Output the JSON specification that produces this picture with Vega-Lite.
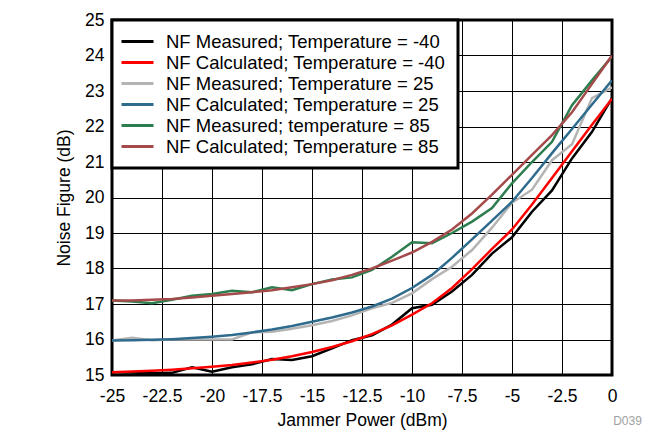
{
  "$schema": "https://vega.github.io/schema/vega-lite/v6.json",
  "width": 500,
  "height": 355,
  "autosize": {"type": "none"},
  "padding": {"left": 112, "top": 20, "right": 59, "bottom": 55},
  "background": "white",
  "title": {"text": "D039", "orient": "bottom", "anchor": "end", "fontSize": 12, "color": "#A0A0A0", "fontWeight": "normal", "font": "Liberation Sans", "offset": -13, "dx": 25},
  "data": {"values": [
    {"x": -25, "nf": 15.08, "s": "NF Measured; Temperature = -40"},
    {"x": -24, "nf": 15.07, "s": "NF Measured; Temperature = -40"},
    {"x": -23, "nf": 15.05, "s": "NF Measured; Temperature = -40"},
    {"x": -22, "nf": 15.06, "s": "NF Measured; Temperature = -40"},
    {"x": -21, "nf": 15.22, "s": "NF Measured; Temperature = -40"},
    {"x": -20, "nf": 15.09, "s": "NF Measured; Temperature = -40"},
    {"x": -19, "nf": 15.22, "s": "NF Measured; Temperature = -40"},
    {"x": -18, "nf": 15.3, "s": "NF Measured; Temperature = -40"},
    {"x": -17, "nf": 15.45, "s": "NF Measured; Temperature = -40"},
    {"x": -16, "nf": 15.42, "s": "NF Measured; Temperature = -40"},
    {"x": -15, "nf": 15.53, "s": "NF Measured; Temperature = -40"},
    {"x": -14, "nf": 15.75, "s": "NF Measured; Temperature = -40"},
    {"x": -13, "nf": 15.98, "s": "NF Measured; Temperature = -40"},
    {"x": -12, "nf": 16.12, "s": "NF Measured; Temperature = -40"},
    {"x": -11, "nf": 16.42, "s": "NF Measured; Temperature = -40"},
    {"x": -10, "nf": 16.88, "s": "NF Measured; Temperature = -40"},
    {"x": -9, "nf": 16.98, "s": "NF Measured; Temperature = -40"},
    {"x": -8, "nf": 17.35, "s": "NF Measured; Temperature = -40"},
    {"x": -7, "nf": 17.82, "s": "NF Measured; Temperature = -40"},
    {"x": -6, "nf": 18.42, "s": "NF Measured; Temperature = -40"},
    {"x": -5, "nf": 18.88, "s": "NF Measured; Temperature = -40"},
    {"x": -4, "nf": 19.6, "s": "NF Measured; Temperature = -40"},
    {"x": -3, "nf": 20.2, "s": "NF Measured; Temperature = -40"},
    {"x": -2, "nf": 21.1, "s": "NF Measured; Temperature = -40"},
    {"x": -1, "nf": 21.85, "s": "NF Measured; Temperature = -40"},
    {"x": 0, "nf": 22.8, "s": "NF Measured; Temperature = -40"},

    {"x": -25, "nf": 15.08, "s": "NF Calculated; Temperature = -40"},
    {"x": -24, "nf": 15.1, "s": "NF Calculated; Temperature = -40"},
    {"x": -23, "nf": 15.12, "s": "NF Calculated; Temperature = -40"},
    {"x": -22, "nf": 15.15, "s": "NF Calculated; Temperature = -40"},
    {"x": -21, "nf": 15.19, "s": "NF Calculated; Temperature = -40"},
    {"x": -20, "nf": 15.23, "s": "NF Calculated; Temperature = -40"},
    {"x": -19, "nf": 15.28, "s": "NF Calculated; Temperature = -40"},
    {"x": -18, "nf": 15.35, "s": "NF Calculated; Temperature = -40"},
    {"x": -17, "nf": 15.43, "s": "NF Calculated; Temperature = -40"},
    {"x": -16, "nf": 15.53, "s": "NF Calculated; Temperature = -40"},
    {"x": -15, "nf": 15.65, "s": "NF Calculated; Temperature = -40"},
    {"x": -14, "nf": 15.79, "s": "NF Calculated; Temperature = -40"},
    {"x": -13, "nf": 15.95, "s": "NF Calculated; Temperature = -40"},
    {"x": -12, "nf": 16.15, "s": "NF Calculated; Temperature = -40"},
    {"x": -11, "nf": 16.4, "s": "NF Calculated; Temperature = -40"},
    {"x": -10, "nf": 16.7, "s": "NF Calculated; Temperature = -40"},
    {"x": -9, "nf": 17.02, "s": "NF Calculated; Temperature = -40"},
    {"x": -8, "nf": 17.45, "s": "NF Calculated; Temperature = -40"},
    {"x": -7, "nf": 17.98, "s": "NF Calculated; Temperature = -40"},
    {"x": -6, "nf": 18.55, "s": "NF Calculated; Temperature = -40"},
    {"x": -5, "nf": 19.1, "s": "NF Calculated; Temperature = -40"},
    {"x": -4, "nf": 19.8, "s": "NF Calculated; Temperature = -40"},
    {"x": -3, "nf": 20.55, "s": "NF Calculated; Temperature = -40"},
    {"x": -2, "nf": 21.3, "s": "NF Calculated; Temperature = -40"},
    {"x": -1, "nf": 22.05, "s": "NF Calculated; Temperature = -40"},
    {"x": 0, "nf": 22.78, "s": "NF Calculated; Temperature = -40"},

    {"x": -25, "nf": 15.97, "s": "NF Measured; Temperature = 25"},
    {"x": -24, "nf": 16.05, "s": "NF Measured; Temperature = 25"},
    {"x": -23, "nf": 15.98, "s": "NF Measured; Temperature = 25"},
    {"x": -22, "nf": 16.0, "s": "NF Measured; Temperature = 25"},
    {"x": -21, "nf": 16.0, "s": "NF Measured; Temperature = 25"},
    {"x": -20, "nf": 16.0, "s": "NF Measured; Temperature = 25"},
    {"x": -19, "nf": 16.0, "s": "NF Measured; Temperature = 25"},
    {"x": -18, "nf": 16.2, "s": "NF Measured; Temperature = 25"},
    {"x": -17, "nf": 16.22, "s": "NF Measured; Temperature = 25"},
    {"x": -16, "nf": 16.3, "s": "NF Measured; Temperature = 25"},
    {"x": -15, "nf": 16.4, "s": "NF Measured; Temperature = 25"},
    {"x": -14, "nf": 16.52, "s": "NF Measured; Temperature = 25"},
    {"x": -13, "nf": 16.68, "s": "NF Measured; Temperature = 25"},
    {"x": -12, "nf": 16.88, "s": "NF Measured; Temperature = 25"},
    {"x": -11, "nf": 17.03, "s": "NF Measured; Temperature = 25"},
    {"x": -10, "nf": 17.3, "s": "NF Measured; Temperature = 25"},
    {"x": -9, "nf": 17.7, "s": "NF Measured; Temperature = 25"},
    {"x": -8, "nf": 18.05, "s": "NF Measured; Temperature = 25"},
    {"x": -7, "nf": 18.52, "s": "NF Measured; Temperature = 25"},
    {"x": -6, "nf": 19.15, "s": "NF Measured; Temperature = 25"},
    {"x": -5, "nf": 19.85, "s": "NF Measured; Temperature = 25"},
    {"x": -4, "nf": 20.22, "s": "NF Measured; Temperature = 25"},
    {"x": -3, "nf": 21.05, "s": "NF Measured; Temperature = 25"},
    {"x": -2, "nf": 21.5, "s": "NF Measured; Temperature = 25"},
    {"x": -1, "nf": 22.8, "s": "NF Measured; Temperature = 25"},
    {"x": 0, "nf": 23.1, "s": "NF Measured; Temperature = 25"},

    {"x": -25, "nf": 15.97, "s": "NF Calculated; Temperature = 25"},
    {"x": -24, "nf": 15.98, "s": "NF Calculated; Temperature = 25"},
    {"x": -23, "nf": 15.99, "s": "NF Calculated; Temperature = 25"},
    {"x": -22, "nf": 16.01, "s": "NF Calculated; Temperature = 25"},
    {"x": -21, "nf": 16.04, "s": "NF Calculated; Temperature = 25"},
    {"x": -20, "nf": 16.08, "s": "NF Calculated; Temperature = 25"},
    {"x": -19, "nf": 16.13, "s": "NF Calculated; Temperature = 25"},
    {"x": -18, "nf": 16.2, "s": "NF Calculated; Temperature = 25"},
    {"x": -17, "nf": 16.28, "s": "NF Calculated; Temperature = 25"},
    {"x": -16, "nf": 16.38, "s": "NF Calculated; Temperature = 25"},
    {"x": -15, "nf": 16.5, "s": "NF Calculated; Temperature = 25"},
    {"x": -14, "nf": 16.62, "s": "NF Calculated; Temperature = 25"},
    {"x": -13, "nf": 16.76, "s": "NF Calculated; Temperature = 25"},
    {"x": -12, "nf": 16.93, "s": "NF Calculated; Temperature = 25"},
    {"x": -11, "nf": 17.15, "s": "NF Calculated; Temperature = 25"},
    {"x": -10, "nf": 17.45, "s": "NF Calculated; Temperature = 25"},
    {"x": -9, "nf": 17.82, "s": "NF Calculated; Temperature = 25"},
    {"x": -8, "nf": 18.3, "s": "NF Calculated; Temperature = 25"},
    {"x": -7, "nf": 18.82, "s": "NF Calculated; Temperature = 25"},
    {"x": -6, "nf": 19.35, "s": "NF Calculated; Temperature = 25"},
    {"x": -5, "nf": 19.88, "s": "NF Calculated; Temperature = 25"},
    {"x": -4, "nf": 20.55, "s": "NF Calculated; Temperature = 25"},
    {"x": -3, "nf": 21.25, "s": "NF Calculated; Temperature = 25"},
    {"x": -2, "nf": 21.93, "s": "NF Calculated; Temperature = 25"},
    {"x": -1, "nf": 22.62, "s": "NF Calculated; Temperature = 25"},
    {"x": 0, "nf": 23.3, "s": "NF Calculated; Temperature = 25"},

    {"x": -25, "nf": 17.1, "s": "NF Measured; temperature = 85"},
    {"x": -24, "nf": 17.07, "s": "NF Measured; temperature = 85"},
    {"x": -23, "nf": 17.02, "s": "NF Measured; temperature = 85"},
    {"x": -22, "nf": 17.12, "s": "NF Measured; temperature = 85"},
    {"x": -21, "nf": 17.23, "s": "NF Measured; temperature = 85"},
    {"x": -20, "nf": 17.28, "s": "NF Measured; temperature = 85"},
    {"x": -19, "nf": 17.37, "s": "NF Measured; temperature = 85"},
    {"x": -18, "nf": 17.33, "s": "NF Measured; temperature = 85"},
    {"x": -17, "nf": 17.47, "s": "NF Measured; temperature = 85"},
    {"x": -16, "nf": 17.39, "s": "NF Measured; temperature = 85"},
    {"x": -15, "nf": 17.56, "s": "NF Measured; temperature = 85"},
    {"x": -14, "nf": 17.69, "s": "NF Measured; temperature = 85"},
    {"x": -13, "nf": 17.75, "s": "NF Measured; temperature = 85"},
    {"x": -12, "nf": 17.96, "s": "NF Measured; temperature = 85"},
    {"x": -11, "nf": 18.33, "s": "NF Measured; temperature = 85"},
    {"x": -10, "nf": 18.74, "s": "NF Measured; temperature = 85"},
    {"x": -9, "nf": 18.71, "s": "NF Measured; temperature = 85"},
    {"x": -8, "nf": 19.0, "s": "NF Measured; temperature = 85"},
    {"x": -7, "nf": 19.32, "s": "NF Measured; temperature = 85"},
    {"x": -6, "nf": 19.7, "s": "NF Measured; temperature = 85"},
    {"x": -5, "nf": 20.4, "s": "NF Measured; temperature = 85"},
    {"x": -4, "nf": 21.0, "s": "NF Measured; temperature = 85"},
    {"x": -3, "nf": 21.57, "s": "NF Measured; temperature = 85"},
    {"x": -2, "nf": 22.6, "s": "NF Measured; temperature = 85"},
    {"x": -1, "nf": 23.3, "s": "NF Measured; temperature = 85"},
    {"x": 0, "nf": 23.97, "s": "NF Measured; temperature = 85"},

    {"x": -25, "nf": 17.1, "s": "NF Calculated; Temperature = 85"},
    {"x": -24, "nf": 17.1, "s": "NF Calculated; Temperature = 85"},
    {"x": -23, "nf": 17.12, "s": "NF Calculated; Temperature = 85"},
    {"x": -22, "nf": 17.14, "s": "NF Calculated; Temperature = 85"},
    {"x": -21, "nf": 17.18, "s": "NF Calculated; Temperature = 85"},
    {"x": -20, "nf": 17.23, "s": "NF Calculated; Temperature = 85"},
    {"x": -19, "nf": 17.28, "s": "NF Calculated; Temperature = 85"},
    {"x": -18, "nf": 17.33, "s": "NF Calculated; Temperature = 85"},
    {"x": -17, "nf": 17.39, "s": "NF Calculated; Temperature = 85"},
    {"x": -16, "nf": 17.47, "s": "NF Calculated; Temperature = 85"},
    {"x": -15, "nf": 17.56, "s": "NF Calculated; Temperature = 85"},
    {"x": -14, "nf": 17.67, "s": "NF Calculated; Temperature = 85"},
    {"x": -13, "nf": 17.82, "s": "NF Calculated; Temperature = 85"},
    {"x": -12, "nf": 18.0, "s": "NF Calculated; Temperature = 85"},
    {"x": -11, "nf": 18.22, "s": "NF Calculated; Temperature = 85"},
    {"x": -10, "nf": 18.45, "s": "NF Calculated; Temperature = 85"},
    {"x": -9, "nf": 18.75, "s": "NF Calculated; Temperature = 85"},
    {"x": -8, "nf": 19.1, "s": "NF Calculated; Temperature = 85"},
    {"x": -7, "nf": 19.55, "s": "NF Calculated; Temperature = 85"},
    {"x": -6, "nf": 20.08, "s": "NF Calculated; Temperature = 85"},
    {"x": -5, "nf": 20.64, "s": "NF Calculated; Temperature = 85"},
    {"x": -4, "nf": 21.2, "s": "NF Calculated; Temperature = 85"},
    {"x": -3, "nf": 21.76, "s": "NF Calculated; Temperature = 85"},
    {"x": -2, "nf": 22.4, "s": "NF Calculated; Temperature = 85"},
    {"x": -1, "nf": 23.2, "s": "NF Calculated; Temperature = 85"},
    {"x": 0, "nf": 24.0, "s": "NF Calculated; Temperature = 85"}
  ]},
  "mark": {"type": "line", "strokeWidth": 2.5, "clip": true},
  "encoding": {
    "x": {
      "field": "x", "type": "quantitative",
      "scale": {"domain": [-25, 0], "nice": false},
      "axis": {"values": [-25, -22.5, -20, -17.5, -15, -12.5, -10, -7.5, -5, -2.5, 0], "labelExpr": "datum.value < 0 ? '-' + (-datum.value) : '' + datum.value", "labelOverlap": false, "labelFlush": false, "title": "Jammer Power (dBm)", "labelPadding": 12, "titlePadding": 7}
    },
    "y": {
      "field": "nf", "type": "quantitative",
      "scale": {"domain": [15, 25], "nice": false, "zero": false},
      "axis": {"values": [15, 16, 17, 18, 19, 20, 21, 22, 23, 24, 25], "labelOverlap": false, "labelFlush": false, "title": "Noise Figure (dB)", "labelPadding": 8, "titlePadding": 11}
    },
    "color": {
      "field": "s", "type": "nominal",
      "scale": {
        "domain": ["NF Measured; Temperature = -40", "NF Calculated; Temperature = -40", "NF Measured; Temperature = 25", "NF Calculated; Temperature = 25", "NF Measured; temperature = 85", "NF Calculated; Temperature = 85"],
        "range": ["#000000", "#FF0000", "#B4B4B4", "#2E6B8C", "#2E7D4F", "#A54A4A"]
      },
      "legend": {
        "title": null, "orient": "top-left", "offset": 0,
        "fillColor": "white", "strokeColor": "black", "padding": 12,
        "symbolType": "M-1.5,0H2.5", "symbolSize": 256, "symbolStrokeWidth": 3,
        "labelFontSize": 18.5, "labelOffset": 23, "rowPadding": 2, "labelLimit": 400
      }
    }
  },
  "config": {
    "font": "Liberation Sans",
    "view": {"stroke": "black", "strokeWidth": 3},
    "axis": {
      "grid": true, "gridColor": "black", "gridOpacity": 1, "gridWidth": 1,
      "domain": false, "ticks": false,
      "labelFont": "Liberation Sans", "labelFontSize": 17.5, "labelColor": "black",
      "titleFont": "Liberation Sans", "titleFontSize": 17.5, "titleFontWeight": "normal", "titleColor": "black"
    },
    "legend": {"labelFont": "Liberation Sans", "labelColor": "black", "strokeWidth": 3}
  }
}
